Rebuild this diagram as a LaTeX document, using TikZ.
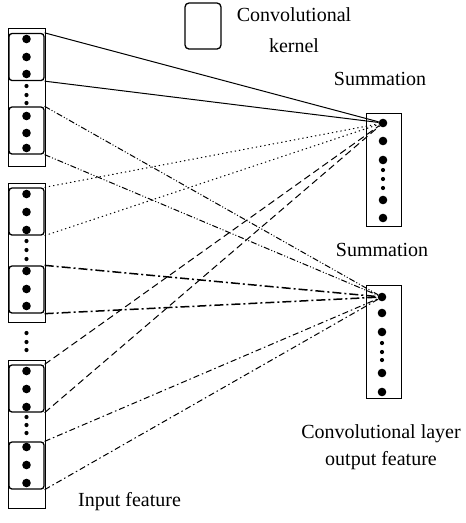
\documentclass[tikz,border=0pt]{standalone}
\usepackage{fontspec}
\setmainfont{Liberation Serif}
\begin{document}
\begin{tikzpicture}[x=1pt,y=-1pt,
  bigdot/.style={circle, fill, inner sep=0pt, minimum size=8.6pt},
  smalldot/.style={circle, fill, inner sep=0pt, minimum size=4.2pt},
  kernel/.style={draw, rounded corners=3pt, line width=1.3pt, minimum width=35pt, minimum height=47pt, inner sep=0pt},
  outerbox/.style={draw, line width=0.9pt, inner sep=0pt},
  lbl/.style={font=\fontsize{20}{27}\selectfont, align=center, inner sep=0pt},
  ln/.style={line width=1pt},
  dashdotdot/.style={ln, dash pattern=on 6pt off 2pt on 1pt off 2pt on 1pt off 2pt},
  dottedln/.style={ln, dash pattern=on 1.3pt off 3pt},
  thickdashdot/.style={line width=1.5pt, dash pattern=on 9pt off 3pt on 2pt off 3pt},
  dashedln/.style={ln, dash pattern=on 7pt off 4pt},
  thindashdot/.style={ln, dash pattern=on 6pt off 3pt on 1.5pt off 3pt}
]
\useasboundingbox (0,0) rectangle (466,523);

% legend
\node[kernel, minimum width=36pt, minimum height=46pt, rounded corners=4pt] (legend) at (203,26) {};
\node[lbl, font=\fontsize{20}{31}\selectfont] (legendtxt) at (294,30) {Convolutional\\kernel};

% ---- left group 1
\node[outerbox, minimum width=37pt, minimum height=138pt] (g1) at (26.5,97) {};
\node[kernel] (k11) at (26.5,57) {};
\node[kernel] (k12) at (26.5,130.5) {};
\node[bigdot] (a1) at (26.5,39) {};
\node[bigdot] (a2) at (26.5,57) {};
\node[bigdot] (a3) at (26.5,74) {};
\node[smalldot] (a4) at (26.5,86) {};
\node[smalldot] (a5) at (26.5,95) {};
\node[smalldot] (a6) at (26.5,103) {};
\node[bigdot] (a7) at (26.5,116) {};
\node[bigdot] (a8) at (26.5,133) {};
\node[bigdot] (a9) at (26.5,148) {};

% ---- left group 2
\node[outerbox, minimum width=37pt, minimum height=139pt] (g2) at (26.5,252.5) {};
\node[kernel] (k21) at (26.5,211.5) {};
\node[kernel] (k22) at (26.5,289.5) {};
\node[bigdot] (b1) at (26.5,194) {};
\node[bigdot] (b2) at (26.5,212) {};
\node[bigdot] (b3) at (26.5,230) {};
\node[smalldot] (b4) at (26.5,241) {};
\node[smalldot] (b5) at (26.5,250) {};
\node[smalldot] (b6) at (26.5,259) {};
\node[bigdot] (b7) at (26.5,271) {};
\node[bigdot] (b8) at (26.5,289) {};
\node[bigdot] (b9) at (26.5,306) {};

% dots between group 2 and 3
\node[smalldot] (m1) at (26.5,333) {};
\node[smalldot] (m2) at (26.5,342) {};
\node[smalldot] (m3) at (26.5,350) {};

% ---- left group 3
\node[outerbox, minimum width=37pt, minimum height=148pt] (g3) at (26.5,434) {};
\node[kernel] (k31) at (26.5,388.5) {};
\node[kernel] (k32) at (26.5,465.5) {};
\node[bigdot] (c1) at (26.5,371) {};
\node[bigdot] (c2) at (26.5,389) {};
\node[bigdot] (c3) at (26.5,407) {};
\node[smalldot] (c4) at (26.5,417) {};
\node[smalldot] (c5) at (26.5,425) {};
\node[smalldot] (c6) at (26.5,433) {};
\node[bigdot] (c7) at (26.5,447) {};
\node[bigdot] (c8) at (26.5,465) {};
\node[bigdot] (c9) at (26.5,483) {};

% ---- right box 1
\node[outerbox, minimum width=35pt, minimum height=113pt] (r1) at (383.5,169.5) {};
\node[bigdot] (p1) at (383,123) {};
\node[bigdot] (p2) at (383,141) {};
\node[bigdot] (p3) at (383,160) {};
\node[smalldot] (p4) at (383,170) {};
\node[smalldot] (p5) at (383,179) {};
\node[smalldot] (p6) at (383,188) {};
\node[bigdot] (p7) at (383,200) {};
\node[bigdot] (p8) at (383,218) {};

% ---- right box 2
\node[outerbox, minimum width=35pt, minimum height=113pt] (r2) at (383.5,341.5) {};
\node[bigdot] (q1) at (382,297) {};
\node[bigdot] (q2) at (382,313) {};
\node[bigdot] (q3) at (382,332) {};
\node[smalldot] (q4) at (382,343) {};
\node[smalldot] (q5) at (382,352) {};
\node[smalldot] (q6) at (382,360) {};
\node[bigdot] (q7) at (382,373) {};
\node[bigdot] (q8) at (382,392) {};

% labels
\node[lbl] (sum1) at (380,79) {Summation};
\node[lbl] (sum2) at (382,250) {Summation};
\node[lbl] (outlbl) at (381,447) {Convolutional layer\\output feature};
\node[lbl, anchor=west] (inlbl) at (78,502) {Input feature};

% connectors
\draw[ln] (k11.north east) -- (p1);
\draw[ln] (k11.south east) -- (p1);
\draw[dashdotdot] (k12.north east) -- (q1);
\draw[dashdotdot] (k12.south east) -- (q1);
\draw[dottedln] (k21.north east) -- (p1);
\draw[dottedln] (k21.south east) -- (p1);
\draw[thickdashdot] (k22.north east) -- (q1);
\draw[thickdashdot] (k22.south east) -- (q1);
\draw[dashedln] (k31.north east) -- (p1);
\draw[dashedln] (k31.south east) -- (p1);
\draw[thindashdot] (k32.north east) -- (q1);
\draw[thindashdot] (k32.south east) -- (q1);
\end{tikzpicture}
\end{document}
